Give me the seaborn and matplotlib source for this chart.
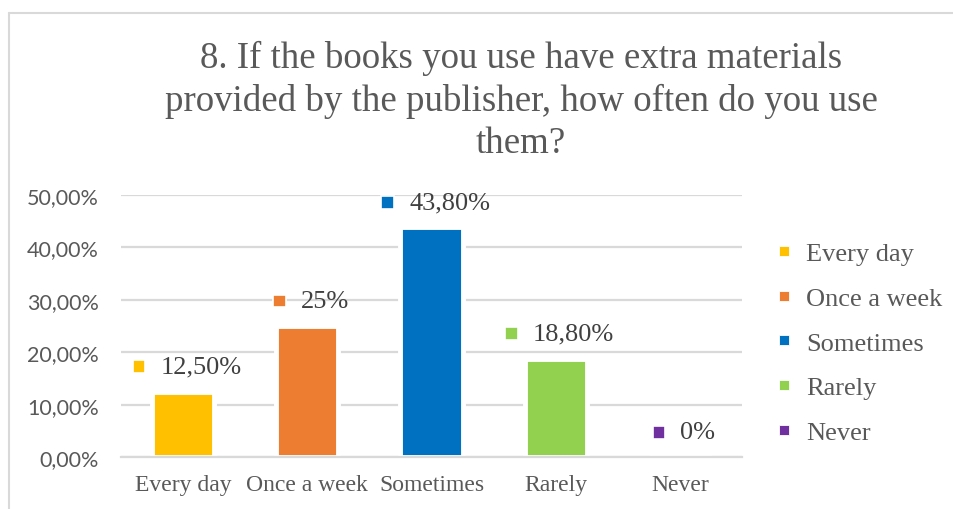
import matplotlib
matplotlib.use("Agg")
import matplotlib.pyplot as plt
from matplotlib.lines import Line2D
from matplotlib.patches import Rectangle
from matplotlib.offsetbox import AnnotationBbox, DrawingArea, TextArea, HPacker
import seaborn as sns
import pandas as pd

# Survey answers and their shares (percent)
categories = ["Every day", "Once a week", "Sometimes", "Rarely", "Never"]
values = [12.5, 25.0, 43.8, 18.8, 0.0]
value_labels = ["12,50%", "25%", "43,80%", "18,80%", "0%"]
colors = ["#FFC000", "#ED7D31", "#0070C0", "#92D050", "#7030A0"]
y_ticks = [0, 10, 20, 30, 40, 50]
y_tick_labels = ["0,00%", "10,00%", "20,00%", "30,00%", "40,00%", "50,00%"]
title = "8. If the books you use have extra materials\nprovided by the publisher, how often do you use\nthem?"

sns.set_theme(style="white")
plt.rcParams["font.family"] = ["Liberation Serif", "DejaVu Serif"]

TEXT = "#595959"
LABEL = "#404040"
GRID = "#D9D9D9"

df = pd.DataFrame({"answer": categories, "share": values})

fig = plt.figure(figsize=(9.54, 5.10), dpi=100)
ax = fig.add_axes([121 / 954, 1 - 458.3 / 510, (742 - 121) / 954, (458.3 - 195.7) / 510])

sns.barplot(data=df, x="answer", y="share", hue="answer", palette=colors,
            order=categories, hue_order=categories, saturation=1, width=0.5,
            edgecolor="white", linewidth=3.5, legend=False, ax=ax, zorder=3)

ax.set_ylim(0, 50)
ax.set_xlim(-0.5, len(categories) - 0.5)
ax.set_yticks(y_ticks)
ax.set_yticklabels(y_tick_labels, fontfamily="Lato", fontsize=15.5, color=TEXT)
ax.yaxis.grid(True, color=GRID, linewidth=1.6, zorder=0)
ax.set_axisbelow(True)
ax.set_xlabel("")
ax.set_ylabel("")
for s in ["left", "right", "top"]:
    ax.spines[s].set_visible(False)
ax.spines["bottom"].set_color(GRID)
ax.spines["bottom"].set_linewidth(1.6)
ax.spines["bottom"].set_zorder(4)
ax.tick_params(axis="y", length=0, pad=16)
ax.tick_params(axis="x", which="major", length=0, pad=12, labelsize=17, labelcolor=TEXT)
ax.set_xticks(range(len(categories)))
ax.set_xticklabels(categories)
ax.set_xticks([i - 0.5 for i in range(len(categories) + 1)], minor=True)
ax.tick_params(axis="x", which="minor", length=5, width=1.4, color=GRID)

# Value labels: coloured key square followed by the value text
for i, (v, lab, c) in enumerate(zip(values, value_labels, colors)):
    da = DrawingArea(9, 9, 0, 0)
    da.add_artist(Rectangle((0, 0), 9, 9, facecolor=c, edgecolor="white", linewidth=1.2))
    ta = TextArea(lab, textprops=dict(fontsize=19, color=LABEL, family="Liberation Serif"))
    box = HPacker(children=[da, ta], align="center", pad=0, sep=11)
    ab = AnnotationBbox(box, (i, v), xybox=(3, 18), xycoords="data",
                        boxcoords="offset points", frameon=False, box_alignment=(0.5, 0.5),
                        zorder=5)
    ax.add_artist(ab)

# Legend on the right
handles = [Line2D([0], [0], marker="s", linestyle="none", markersize=6.5,
                  markerfacecolor=c, markeredgecolor="white", markeredgewidth=0.6)
           for c in colors]
leg = fig.legend(handles, categories, loc="upper left", bbox_to_anchor=(776 / 954, 1 - 243 / 510),
                 frameon=False, fontsize=19, labelcolor=TEXT, handlelength=0.6,
                 handletextpad=0.55, labelspacing=0.80, borderaxespad=0, borderpad=0)

fig.text(521 / 954, 1 - 41 / 510, title, ha="center", va="top", fontsize=26.6,
         color=TEXT, linespacing=1.28)

# Chart area border (top and left edges)
fig.add_artist(Line2D([9.5 / 954, 1], [1 - 14 / 510, 1 - 14 / 510], color=GRID, linewidth=1.5))
fig.add_artist(Line2D([9.5 / 954, 9.5 / 954], [0, 1 - 14 / 510], color=GRID, linewidth=1.5))

fig.savefig("out.png", dpi=100, facecolor="white")
